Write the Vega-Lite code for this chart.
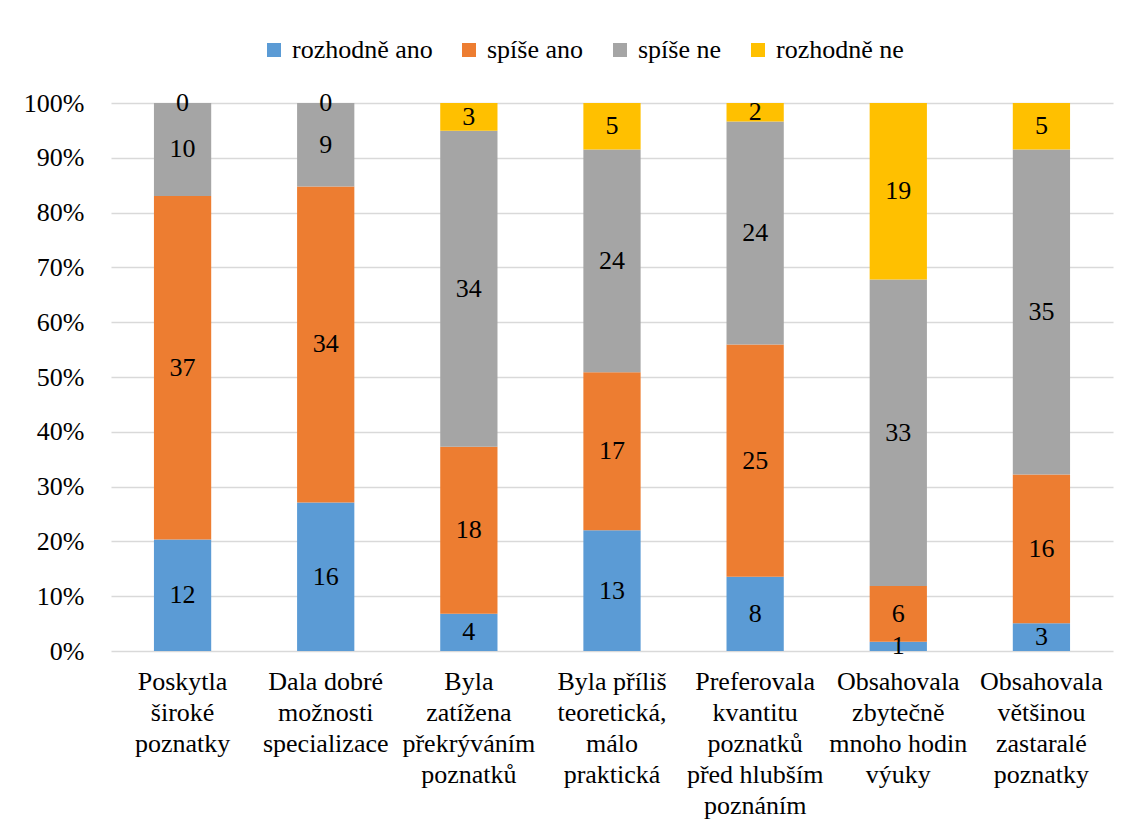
{
  "$schema": "https://vega.github.io/schema/vega-lite/v6.json",
  "autosize": "none",
  "width": 1002,
  "height": 548,
  "padding": {"left": 111, "top": 103, "right": 19, "bottom": 180},
  "background": "white",
  "config": {
    "font": "Liberation Serif",
    "view": {"stroke": null},
    "axis": {"labelFont": "Liberation Serif", "labelColor": "#000000", "labelFontSize": 26, "ticks": false, "domain": false, "title": null},
    "legend": {"labelFont": "Liberation Serif"}
  },
  "data": {
    "values": [
      {"kategorie": "Poskytla široké poznatky", "odpoved": "rozhodně ano", "poradi": 1, "pocet": 12},
      {"kategorie": "Poskytla široké poznatky", "odpoved": "spíše ano", "poradi": 2, "pocet": 37},
      {"kategorie": "Poskytla široké poznatky", "odpoved": "spíše ne", "poradi": 3, "pocet": 10},
      {"kategorie": "Poskytla široké poznatky", "odpoved": "rozhodně ne", "poradi": 4, "pocet": 0},
      {"kategorie": "Dala dobré možnosti specializace", "odpoved": "rozhodně ano", "poradi": 1, "pocet": 16},
      {"kategorie": "Dala dobré možnosti specializace", "odpoved": "spíše ano", "poradi": 2, "pocet": 34},
      {"kategorie": "Dala dobré možnosti specializace", "odpoved": "spíše ne", "poradi": 3, "pocet": 9},
      {"kategorie": "Dala dobré možnosti specializace", "odpoved": "rozhodně ne", "poradi": 4, "pocet": 0},
      {"kategorie": "Byla zatížena překrýváním poznatků", "odpoved": "rozhodně ano", "poradi": 1, "pocet": 4},
      {"kategorie": "Byla zatížena překrýváním poznatků", "odpoved": "spíše ano", "poradi": 2, "pocet": 18},
      {"kategorie": "Byla zatížena překrýváním poznatků", "odpoved": "spíše ne", "poradi": 3, "pocet": 34},
      {"kategorie": "Byla zatížena překrýváním poznatků", "odpoved": "rozhodně ne", "poradi": 4, "pocet": 3},
      {"kategorie": "Byla příliš teoretická, málo praktická", "odpoved": "rozhodně ano", "poradi": 1, "pocet": 13},
      {"kategorie": "Byla příliš teoretická, málo praktická", "odpoved": "spíše ano", "poradi": 2, "pocet": 17},
      {"kategorie": "Byla příliš teoretická, málo praktická", "odpoved": "spíše ne", "poradi": 3, "pocet": 24},
      {"kategorie": "Byla příliš teoretická, málo praktická", "odpoved": "rozhodně ne", "poradi": 4, "pocet": 5},
      {"kategorie": "Preferovala kvantitu poznatků před hlubším poznáním", "odpoved": "rozhodně ano", "poradi": 1, "pocet": 8},
      {"kategorie": "Preferovala kvantitu poznatků před hlubším poznáním", "odpoved": "spíše ano", "poradi": 2, "pocet": 25},
      {"kategorie": "Preferovala kvantitu poznatků před hlubším poznáním", "odpoved": "spíše ne", "poradi": 3, "pocet": 24},
      {"kategorie": "Preferovala kvantitu poznatků před hlubším poznáním", "odpoved": "rozhodně ne", "poradi": 4, "pocet": 2},
      {"kategorie": "Obsahovala zbytečně mnoho hodin výuky", "odpoved": "rozhodně ano", "poradi": 1, "pocet": 1},
      {"kategorie": "Obsahovala zbytečně mnoho hodin výuky", "odpoved": "spíše ano", "poradi": 2, "pocet": 6},
      {"kategorie": "Obsahovala zbytečně mnoho hodin výuky", "odpoved": "spíše ne", "poradi": 3, "pocet": 33},
      {"kategorie": "Obsahovala zbytečně mnoho hodin výuky", "odpoved": "rozhodně ne", "poradi": 4, "pocet": 19},
      {"kategorie": "Obsahovala většinou zastaralé poznatky", "odpoved": "rozhodně ano", "poradi": 1, "pocet": 3},
      {"kategorie": "Obsahovala většinou zastaralé poznatky", "odpoved": "spíše ano", "poradi": 2, "pocet": 16},
      {"kategorie": "Obsahovala většinou zastaralé poznatky", "odpoved": "spíše ne", "poradi": 3, "pocet": 35},
      {"kategorie": "Obsahovala většinou zastaralé poznatky", "odpoved": "rozhodně ne", "poradi": 4, "pocet": 5}
    ]
  },
  "transform": [
    {"stack": "pocet", "groupby": ["kategorie"], "offset": "normalize", "sort": [{"field": "poradi", "order": "ascending"}], "as": ["y0", "y1"]},
    {"calculate": "(datum.y0 + datum.y1) / 2", "as": "ymid"}
  ],
  "encoding": {
    "x": {
      "field": "kategorie",
      "type": "nominal",
      "sort": null,
      "scale": {"paddingInner": 0.6, "paddingOuter": 0.3},
      "axis": {
        "labelAngle": 0,
        "labelPadding": 17,
        "labelBaseline": "top",
        "labelLineHeight": 31,
        "labelLimit": 300,
        "labelExpr": "datum.value == 'Poskytla široké poznatky' ? ['Poskytla','široké','poznatky'] : datum.value == 'Dala dobré možnosti specializace' ? ['Dala dobré','možnosti','specializace'] : datum.value == 'Byla zatížena překrýváním poznatků' ? ['Byla','zatížena','překrýváním','poznatků'] : datum.value == 'Byla příliš teoretická, málo praktická' ? ['Byla příliš','teoretická,','málo','praktická'] : datum.value == 'Preferovala kvantitu poznatků před hlubším poznáním' ? ['Preferovala','kvantitu','poznatků','před hlubším','poznáním'] : datum.value == 'Obsahovala zbytečně mnoho hodin výuky' ? ['Obsahovala','zbytečně','mnoho hodin','výuky'] : ['Obsahovala','většinou','zastaralé','poznatky']"
      }
    }
  },
  "layer": [
    {
      "mark": {"type": "bar"},
      "encoding": {
        "y": {
          "field": "y0",
          "type": "quantitative",
          "scale": {"domain": [0, 1]},
          "axis": {
            "values": [0, 0.1, 0.2, 0.3, 0.4, 0.5, 0.6, 0.7, 0.8, 0.9, 1],
            "format": ".0%",
            "labelPadding": 27,
            "grid": true,
            "gridColor": "#D9D9D9",
            "gridWidth": 1.3
          }
        },
        "y2": {"field": "y1"},
        "color": {
          "field": "odpoved",
          "type": "nominal",
          "sort": ["rozhodně ano", "spíše ano", "spíše ne", "rozhodně ne"],
          "scale": {
            "domain": ["rozhodně ano", "spíše ano", "spíše ne", "rozhodně ne"],
            "range": ["#5B9BD5", "#ED7D31", "#A5A5A5", "#FFC000"]
          },
          "legend": {
            "title": null,
            "orient": "none",
            "direction": "horizontal",
            "legendX": 150,
            "legendY": -66,
            "symbolType": "square",
            "symbolSize": 196,
            "symbolStrokeWidth": 0,
            "labelFontSize": 26,
            "labelColor": "#000000",
            "labelOffset": 5,
            "columnPadding": 23,
            "labelLimit": 300
          }
        }
      }
    },
    {
      "mark": {"type": "text", "font": "Liberation Serif", "fontSize": 26, "color": "#000000", "baseline": "middle"},
      "encoding": {
        "y": {"field": "ymid", "type": "quantitative"},
        "text": {"field": "pocet", "type": "quantitative"}
      }
    }
  ]
}
